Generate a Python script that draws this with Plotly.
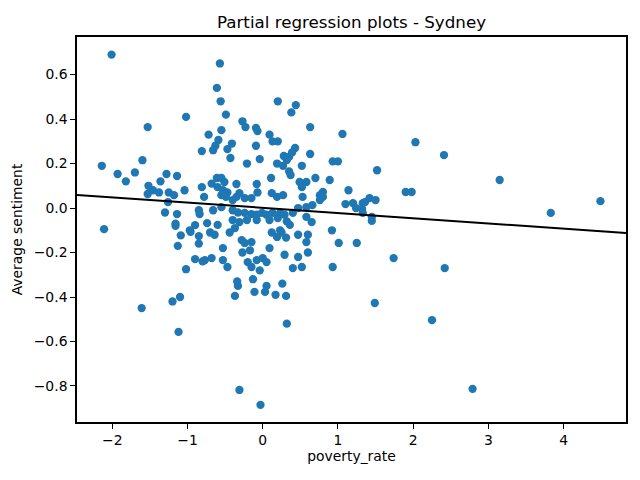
import numpy as np
import plotly.graph_objects as go

# partial residuals (poverty_rate vs Average sentiment)
poverty_rate = [
    -2.01, -2.14, -2.11, -1.61, -1.93, -1.82, -1.70, -1.60, -1.53, -1.02,
    -0.72, -0.81, -1.28, -1.36, -1.14, -1.04, -1.52, -1.46, -1.53, -1.38,
    -1.25, -1.18, -1.26, -1.30, -1.14, -1.16, -1.16, -0.81, -0.78, -0.85,
    -0.84, -0.90, -0.97, -1.09, -1.13, -0.96, -0.85, -0.85, -0.90, -0.80,
    -1.02, -1.20, -1.10, -1.12, -0.74,
    -0.57, -0.61, -0.56, 0.20, 0.38, 0.44, -0.49, -0.27, -0.23, -0.09,
    -0.07, 0.09, 0.13, 0.20, -0.55, -0.59, -0.63, -0.66, -0.41, -0.47,
    -0.43, -0.09, -0.04, -0.21, 0.28, 0.19, 0.27, 0.35, 0.11, -0.68,
    -0.61, -0.55, -0.51, -0.60, -0.53, -0.47, -0.55, -0.49, -0.35, -0.08,
    -0.07, 0.12, -0.24, -0.15, -0.40,
    0.63, 1.06, 0.43, 0.39, 0.32, 0.63, 0.93, 1.00, 0.52, 0.35,
    0.37, 0.70, 0.89, 1.52, 0.49, 0.58, 0.52, 0.80, 0.76, 1.14, 0.53,
    -0.66, -0.55, -0.40, -0.33, -0.24, -0.15, -0.08, -0.01, 0.05, 0.13,
    0.23, 0.29, -0.35, -0.31, 0.19, 0.27,
    -0.40, -0.31, -0.21, -0.08, 0.09, 0.20, 0.32,
    -0.70, -0.60, -0.64, -0.53, -0.44, -0.37, -0.28, -0.24, -0.15, -0.17,
    -0.27, 0.12, 0.19, 0.23, 0.31, 0.09,
    -0.77, -0.68, -0.53, -0.47, -0.20, -0.15, -0.08, 0.00, 0.05, -0.04,
    -0.34, -0.13, 0.05, 0.26,
    -0.33, -0.37, -0.11, 0.03, 0.17, 0.31, 0.32, -0.31, -0.03,
    0.80, 0.76, 0.66, 0.58, 0.47, 0.40, 0.36,
    1.10, 1.20, 1.24, 1.33, 1.36, 1.42, 1.50, 1.32, 1.33, 1.45, 1.45,
    0.65, 0.58, 0.92, 0.25, 0.47, 0.60, 0.58, 1.01, 1.25, 0.60,
    0.29, 0.47, 0.40, 0.52, 0.93,
    1.49, 1.74, 1.90, 1.98, 2.03, 2.25, 2.41, 2.42, 2.79, 3.15, 3.83, 4.49,
]
avg_sentiment = [
    0.69, 0.19, -0.095, -0.45, 0.153, 0.12, 0.16, 0.215, 0.364, 0.41,
    0.33, 0.256, 0.153, 0.12, 0.144, 0.08, 0.10, 0.08, 0.063, 0.07,
    0.07, 0.058, 0.027, -0.02, -0.027, -0.07, -0.08, 0.094, 0.05, -0.01,
    -0.027, -0.077, -0.10, -0.123, -0.17, -0.107, -0.126, -0.16, -0.23, -0.24,
    -0.275, -0.42, -0.40, -0.557, -0.068,
    0.65, 0.54, 0.48, 0.48, 0.43, 0.463, 0.42, 0.39, 0.364, 0.36,
    0.346, 0.33, 0.30, 0.30, 0.35, 0.306, 0.28, 0.26, 0.29, 0.265,
    0.225, 0.28, 0.22, 0.20, 0.234, 0.20, 0.19, 0.23, 0.135, 0.11,
    0.135, 0.135, 0.117, 0.094, 0.08, 0.07, 0.058, 0.05, 0.108, 0.108,
    0.07, 0.067, 0.045, 0.045, 0.036,
    0.364, 0.333, 0.27, 0.25, 0.216, 0.243, 0.21, 0.21, 0.19, 0.165,
    0.148, 0.135, 0.126, 0.17, 0.117, 0.117, 0.094, 0.072, 0.058, 0.08, 0.05,
    -0.01, 0.004, -0.01, -0.02, -0.022, -0.027, -0.03, -0.022, -0.03, -0.022,
    -0.022, -0.03, 0.05, 0.067, 0.05, 0.058,
    -0.054, -0.063, -0.054, -0.054, -0.054, -0.045, -0.06,
    -0.11, -0.076, -0.12, -0.18, -0.11, -0.09, -0.144, -0.157, -0.153, -0.19,
    -0.20, -0.11, -0.13, -0.10, -0.133, -0.18,
    -0.234, -0.225, -0.234, -0.265, -0.243, -0.265, -0.234, -0.225, -0.243, -0.28,
    -0.33, -0.32, -0.35, -0.34,
    -0.35, -0.395, -0.377, -0.377, -0.39, -0.395, -0.52, -0.818, -0.885,
    0.05, 0.036, 0.013, 0.004, 0.0, -0.022, -0.076,
    0.018, 0.022, 0.0, 0.022, 0.027, 0.045, 0.036, -0.004, -0.022, -0.04, -0.058,
    -0.063, -0.04, -0.10, -0.11, -0.12, -0.12, -0.153, -0.157, -0.157, -0.20,
    -0.21, -0.22, -0.27, -0.265, -0.265,
    -0.427, -0.225, 0.072, 0.072, 0.296, -0.504, 0.238, -0.27, -0.813, 0.126, -0.022, 0.031,
]

# fitted line
fit_intercept = 0.001
fit_slope = -0.0235

x_range = [-2.47, 4.83]
y_range = [-0.962, 0.769]

x_ticks = [-2, -1, 0, 1, 2, 3, 4]
x_ticktext = ["\u22122", "\u22121", "0", "1", "2", "3", "4"]
y_ticks = [-0.8, -0.6, -0.4, -0.2, 0.0, 0.2, 0.4, 0.6]
y_ticktext = ["\u22120.8", "\u22120.6", "\u22120.4", "\u22120.2", "0.0", "0.2", "0.4", "0.6"]

line_x = np.array(x_range)
line_y = fit_intercept + fit_slope * line_x

fig = go.Figure()
fig.add_trace(go.Scatter(x=poverty_rate, y=avg_sentiment, mode="markers",
                         marker=dict(size=8.3, color="#1f77b4"), showlegend=False))
fig.add_trace(go.Scatter(x=line_x, y=line_y, mode="lines",
                         line=dict(color="black", width=2), showlegend=False))

axis_style = dict(showgrid=False, zeroline=False, showline=True, mirror=True,
                  linecolor="#000000", linewidth=1.5, ticks="outside", ticklen=5,
                  tickwidth=1.1, tickcolor="black", automargin=False,
                  tickfont=dict(size=13.9, color="black"))

# page body adds 8px, so the figure is 632x472 to fill the 640x480 window
fig.update_layout(
    width=632, height=472,
    margin=dict(l=69, r=14, t=29, b=58),
    paper_bgcolor="white", plot_bgcolor="white",
    font=dict(family="DejaVu Sans", color="black"),
    title=dict(text="Partial regression plots - Sydney", xref="paper", x=0.5, xanchor="center",
               y=1 - 14 / 472, yanchor="middle", font=dict(size=16.7, color="black")),
    xaxis=dict(range=x_range, tickvals=x_ticks, ticktext=x_ticktext,
               title=dict(text="poverty_rate", font=dict(size=13.9), standoff=4), **axis_style),
    yaxis=dict(range=y_range, tickvals=y_ticks, ticktext=y_ticktext,
               title=dict(text="Average sentiment", font=dict(size=13.9), standoff=8), **axis_style),
)

fig.write_html("out.html")
